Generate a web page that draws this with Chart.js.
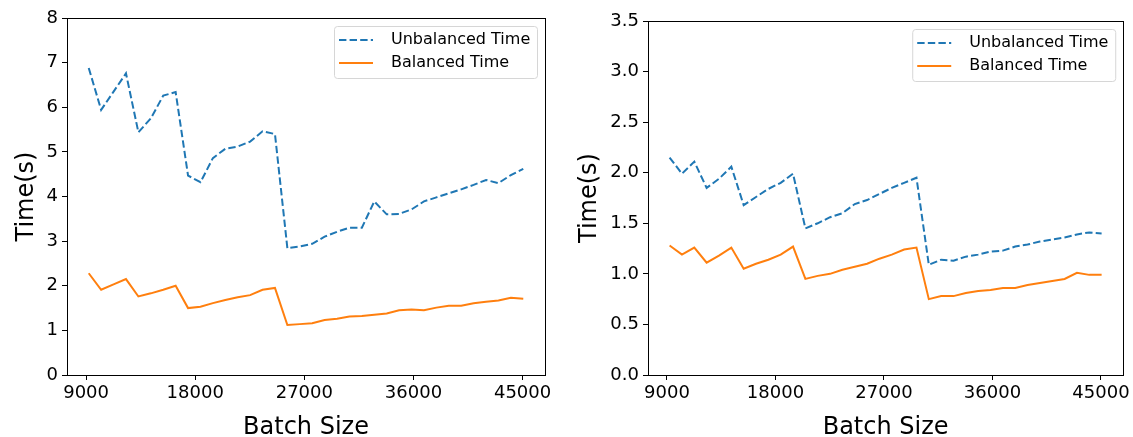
<!DOCTYPE html>
<html>
<head>
<meta charset="utf-8">
<script src="https://cdn.jsdelivr.net/npm/chart.js@4"></script>
<style>
  body { margin: 0; background: #fff; }
  #wrap { position: relative; width: 1133px; height: 437px; }
  canvas { position: absolute; top: 0; }
</style>
</head>
<body>
<div id="wrap">
  <canvas id="left" width="566" height="437" style="left:0"></canvas>
  <canvas id="right" width="567" height="437" style="left:566px"></canvas>
</div>
<script>
const batchSizes = [9216, 10240, 11264, 12288, 13312, 14336, 15360, 16384, 17408, 18432,
  19456, 20480, 21504, 22528, 23552, 24576, 25600, 26624, 27648, 28672,
  29696, 30720, 31744, 32768, 33792, 34816, 35840, 36864, 37888, 38912,
  39936, 40960, 41984, 43008, 44032, 45056];

const leftUnbalanced = [6.88, 5.94, 6.35, 6.76, 5.44, 5.75, 6.26, 6.34, 4.47, 4.32,
  4.86, 5.07, 5.12, 5.23, 5.46, 5.40, 2.84, 2.88, 2.94, 3.10,
  3.21, 3.30, 3.30, 3.89, 3.60, 3.61, 3.71, 3.89, 3.98, 4.07,
  4.16, 4.26, 4.37, 4.30, 4.48, 4.62];
const leftBalanced = [2.28, 1.91, 2.03, 2.15, 1.76, 1.83, 1.91, 2.00, 1.50, 1.53,
  1.61, 1.68, 1.74, 1.79, 1.91, 1.95, 1.12, 1.14, 1.16, 1.23,
  1.26, 1.31, 1.32, 1.35, 1.38, 1.45, 1.47, 1.45, 1.51, 1.55,
  1.55, 1.61, 1.64, 1.67, 1.73, 1.71];

const rightUnbalanced = [2.15, 1.99, 2.11, 1.85, 1.94, 2.06, 1.68, 1.76, 1.84, 1.90,
  1.99, 1.45, 1.50, 1.56, 1.60, 1.69, 1.73, 1.79, 1.85, 1.90,
  1.95, 1.09, 1.14, 1.13, 1.17, 1.19, 1.22, 1.23, 1.27, 1.29,
  1.32, 1.34, 1.36, 1.39, 1.41, 1.40];
const rightBalanced = [1.28, 1.19, 1.26, 1.11, 1.18, 1.26, 1.05, 1.10, 1.14, 1.19,
  1.27, 0.95, 0.98, 1.00, 1.04, 1.07, 1.10, 1.15, 1.19, 1.24,
  1.26, 0.75, 0.78, 0.78, 0.81, 0.83, 0.84, 0.86, 0.86, 0.89,
  0.91, 0.93, 0.95, 1.01, 0.99, 0.99];

const xTicks = [9000, 18000, 27000, 36000, 45000];
const leftYTicks = [0, 1, 2, 3, 4, 5, 6, 7, 8];
const rightYTicks = [0, 0.5, 1.0, 1.5, 2.0, 2.5, 3.0, 3.5];

Chart.defaults.font.family = 'DejaVu Sans';
Chart.defaults.color = '#000';

// matplotlib-like frame around the plot area
const spines = {
  id: 'spines',
  afterDraw(chart) {
    const { ctx, chartArea: a } = chart;
    ctx.save();
    ctx.strokeStyle = '#000';
    ctx.lineWidth = 1;
    ctx.strokeRect(Math.round(a.left) + 0.5, Math.round(a.top) + 0.5,
      Math.round(a.right - a.left), Math.round(a.bottom - a.top));
    ctx.restore();
  }
};

// legend box in the upper right corner of the plot area
const boxLegend = {
  id: 'boxLegend',
  afterDraw(chart) {
    const { ctx, chartArea: a } = chart;
    const w = 203, h = 52;
    const x = a.right - 8 - w, y = a.top + 8;
    ctx.save();
    ctx.beginPath();
    ctx.roundRect(x + 0.5, y + 0.5, w, h, 3);
    ctx.fillStyle = 'rgba(255,255,255,0.8)';
    ctx.fill();
    ctx.strokeStyle = '#d6d6d6';
    ctx.lineWidth = 1;
    ctx.stroke();
    ctx.font = '16px "DejaVu Sans"';
    ctx.textBaseline = 'middle';
    chart.data.datasets.forEach((ds, i) => {
      const ry = y + 14 + i * 23;
      ctx.beginPath();
      ctx.setLineDash(ds.borderDash || []);
      ctx.strokeStyle = ds.borderColor;
      ctx.lineWidth = ds.borderWidth;
      ctx.moveTo(x + 5, ry);
      ctx.lineTo(x + 39, ry);
      ctx.stroke();
      ctx.setLineDash([]);
      ctx.fillStyle = '#000';
      ctx.fillText(ds.label, x + 57, ry);
    });
    ctx.restore();
  }
};

function makeChart(id, unbalanced, balanced, yTicks, yMax, decimals, pad, yWidth, yTitlePad) {
  return new Chart(document.getElementById(id), {
    type: 'line',
    data: {
      datasets: [
        {
          label: 'Unbalanced Time',
          data: batchSizes.map((b, i) => ({ x: b, y: unbalanced[i] })),
          borderColor: '#1f77b4',
          borderWidth: 2,
          borderDash: [7.4, 3.2],
          pointRadius: 0,
          tension: 0,
        },
        {
          label: 'Balanced Time',
          data: batchSizes.map((b, i) => ({ x: b, y: balanced[i] })),
          borderColor: '#ff7f0e',
          borderWidth: 2,
          pointRadius: 0,
          tension: 0,
        },
      ],
    },
    options: {
      responsive: false,
      animation: false,
      layout: { padding: pad },
      plugins: {
        legend: { display: false },
        tooltip: { enabled: false },
      },
      scales: {
        x: {
          type: 'linear',
          min: 7424,
          max: 46848,
          afterBuildTicks: (s) => { s.ticks = xTicks.map(v => ({ value: v })); },
          afterFit: (s) => { s.height = 62; },
          ticks: {
            font: { size: 18 },
            maxRotation: 0,
            autoSkip: false,
            padding: 3,
            callback: (v) => String(v),
          },
          grid: { drawOnChartArea: false, tickLength: 5, color: '#000' },
          border: { display: false },
          title: { display: true, text: 'Batch Size', font: { size: 24 }, padding: { top: 0, bottom: -5 } },
        },
        y: {
          min: 0,
          max: yMax,
          afterBuildTicks: (s) => { s.ticks = yTicks.map(v => ({ value: v })); },
          afterFit: (s) => { s.width = yWidth; },
          ticks: {
            font: { size: 18 },
            padding: 4,
            callback: (v) => Number(v).toFixed(decimals),
          },
          grid: { drawOnChartArea: false, tickLength: 5, color: '#000' },
          border: { display: false },
          title: { display: true, text: 'Time(s)', font: { size: 24 }, padding: { top: yTitlePad, bottom: 0 } },
        },
      },
    },
    plugins: [spines, boxLegend],
  });
}

makeChart('left', leftUnbalanced, leftBalanced, leftYTicks, 8, 0,
  { top: 18, right: 21, bottom: 0, left: 0 }, 67, 12);
makeChart('right', rightUnbalanced, rightBalanced, rightYTicks, 3.5, 1,
  { top: 21, right: 9, bottom: 0, left: 0 }, 82, 9);
</script>
</body>
</html>
